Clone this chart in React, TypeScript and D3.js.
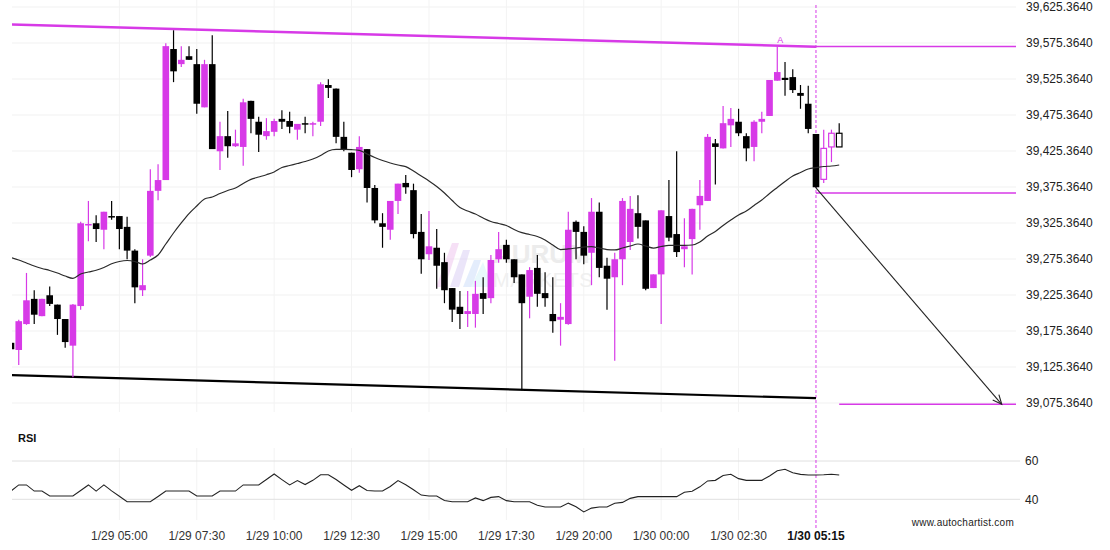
import React from 'react';
import * as d3 from 'd3';

// ---------- data ----------
const opens = [
  39159, 39149, 39185, 39220, 39196, 39225, 39212, 39192, 39155, 39210,
  39323, 39325, 39316, 39335, 39335, 39320, 39287, 39232, 39280, 39370,
  39385, 39567, 39546, 39557, 39546, 39486, 39546, 39425, 39446, 39432,
  39431, 39495, 39466, 39446, 39452, 39470, 39467, 39455, 39464, 39463,
  39466, 39517, 39512, 39445, 39423, 39400, 39428, 39374, 39325, 39316,
  39356, 39381, 39371, 39313, 39282, 39291, 39271, 39235, 39209, 39199,
  39199, 39228, 39221, 39275, 39295, 39275, 39254, 39223, 39263, 39228,
  39199, 39191, 39185, 39327, 39313, 39284, 39341, 39266, 39250, 39275,
  39299, 39339, 39329, 39235, 39254, 39335, 39310, 39289, 39303, 39350,
  39356, 39436, 39429, 39461, 39466, 39446, 39431, 39466, 39474, 39523,
  39527, 39528, 39506, 39491, 39449, 39386, 39431, 39450,
];
const closes = [
  39150, 39189, 39218, 39198, 39220, 39213, 39192, 39160, 39212, 39325,
  39324, 39317, 39341, 39334, 39317, 39287, 39236, 39239, 39370, 39385,
  39571, 39536, 39552, 39552, 39491, 39546, 39428, 39446, 39432, 39436,
  39493, 39470, 39448, 39453, 39467, 39466, 39459, 39463, 39463, 39464,
  39518, 39513, 39445, 39427, 39399, 39431, 39374, 39329, 39320, 39356,
  39380, 39375, 39310, 39275, 39293, 39266, 39232, 39205, 39199, 39203,
  39227, 39220, 39274, 39289, 39275, 39250, 39214, 39260, 39227, 39221,
  39189, 39195, 39316, 39313, 39280, 39341, 39263, 39248, 39275, 39356,
  39345, 39320, 39234, 39254, 39343, 39305, 39285, 39293, 39345, 39363,
  39445, 39431, 39464, 39470, 39450, 39429, 39466, 39470, 39524, 39535,
  39524, 39510, 39502, 39456, 39375, 39429, 39450, 39431,
];
const highs = [
  39160, 39191, 39256, 39232, 39220, 39237, 39212, 39192, 39213, 39327,
  39356, 39336, 39341, 39356, 39335, 39334, 39289, 39275, 39400, 39407,
  39575, 39593, 39571, 39571, 39567, 39552, 39586, 39466, 39481, 39455,
  39498, 39495, 39473, 39471, 39470, 39482, 39480, 39463, 39473, 39466,
  39521, 39525, 39512, 39466, 39423, 39446, 39428, 39378, 39339, 39356,
  39380, 39392, 39380, 39338, 39342, 39317, 39284, 39235, 39231, 39231,
  39245, 39250, 39281, 39313, 39302, 39275, 39254, 39264, 39281, 39257,
  39250, 39214, 39341, 39329, 39321, 39360, 39354, 39277, 39284, 39360,
  39363, 39364, 39329, 39254, 39343, 39385, 39425, 39332, 39345, 39385,
  39449, 39442, 39488, 39485, 39484, 39450, 39468, 39480, 39524, 39570,
  39549, 39539, 39517, 39516, 39449, 39455, 39455, 39464,
];
const lows = [
  39149, 39128, 39184, 39185, 39196, 39210, 39170, 39152, 39111, 39205,
  39300, 39299, 39289, 39330, 39289, 39275, 39214, 39224, 39278, 39357,
  39385, 39521, 39542, 39552, 39477, 39486, 39428, 39399, 39416, 39431,
  39405, 39450, 39424, 39441, 39446, 39456, 39450, 39441, 39450, 39446,
  39460, 39499, 39436, 39425, 39389, 39395, 39354, 39325, 39291, 39302,
  39338, 39366, 39304, 39255, 39274, 39234, 39214, 39188, 39178, 39181,
  39180, 39199, 39214, 39270, 39270, 39242, 39093, 39193, 39209, 39209,
  39173, 39155, 39184, 39275, 39268, 39239, 39250, 39205, 39134, 39239,
  39288, 39304, 39232, 39235, 39185, 39300, 39278, 39264, 39254, 39316,
  39356, 39379, 39429, 39431, 39446, 39411, 39411, 39450, 39474, 39523,
  39502, 39506, 39484, 39450, 39374, 39381, 39410, 39431,
];
const movingAvg = [
  39277.4, 39274.0, 39269.8, 39265.6, 39262.2, 39259.4, 39255.9, 39251.7, 39248.5, 39254.5,
  39257.3, 39259.7, 39263.5, 39268.7, 39271.9, 39273.3, 39271.9, 39268.4, 39274.0, 39280.9,
  39296.2, 39311.5, 39325.4, 39338.5, 39349.0, 39358.7, 39361.5, 39366.3, 39370.5, 39374.0,
  39380.2, 39386.0, 39389.2, 39392.4, 39396.2, 39402.4, 39405.2, 39408.0, 39410.8, 39414.2,
  39419.1, 39425.4, 39427.5, 39427.5, 39427.2, 39426.3, 39421.2, 39416.3, 39412.2, 39408.7,
  39405.9, 39403.6, 39397.6, 39390.6, 39383.7, 39376.0, 39367.0, 39356.6, 39346.9, 39342.0,
  39337.9, 39332.3, 39327.5, 39324.7, 39321.9, 39316.3, 39311.9, 39309.4, 39306.6, 39301.7,
  39294.8, 39288.5, 39289.3, 39290.6, 39292.0, 39292.5, 39290.6, 39288.5, 39287.9, 39290.6,
  39293.4, 39296.2, 39293.4, 39290.6, 39292.7, 39294.4, 39294.4, 39294.4, 39294.8, 39299.0,
  39307.3, 39313.6, 39321.9, 39329.5, 39336.5, 39342.0, 39349.7, 39357.3, 39366.3, 39374.7,
  39383.0, 39390.6, 39395.5, 39400.4, 39402.4, 39403.8, 39404.5, 39405.9,
];
const rsiValues = [
  44.3, 47.5, 47.5, 44.3, 44.3, 41.7, 41.7, 41.7, 41.7, 44.6,
  47.5, 44.3, 47.5, 44.4, 41.6, 38.75, 38.75, 38.75, 38.75, 41.5,
  44.3, 44.3, 44.3, 44.3, 41.7, 41.7, 41.7, 44.3, 44.3, 44.3,
  47.5, 47.5, 47.5, 50.3, 53.2, 50.3, 47.5, 49.8, 47.7, 49.9,
  52.8, 52.85, 50.3, 47.5, 44.7, 47.1, 44.6, 44.3, 44.3, 46.7,
  49.8, 47.6, 45.0, 42.2, 41.7, 41.7, 39.4, 38.75, 38.75, 38.75,
  40.7, 39.3, 41.0, 41.4, 39.3, 38.75, 38.75, 38.75, 36.9, 36.0,
  36.0, 36.0, 38.0, 36.1, 33.4, 35.4, 36.0, 36.0, 37.9, 38.4,
  40.5, 41.4, 41.4, 41.4, 41.4, 41.4, 41.4, 43.7, 44.2, 46.5,
  49.6, 49.9, 52.4, 53.05, 50.8, 49.9, 49.9, 49.9, 52.2, 54.9,
  55.7, 53.9, 53.0, 52.7, 52.7, 52.8, 53.05, 52.7,
];
const hollowFrom = 105; // last candles drawn hollow

const timeTickIndex = [14, 24, 34, 44, 54, 64, 74, 84, 94];
const timeTickLabels = [
  '1/29 05:00', '1/29 07:30', '1/29 10:00', '1/29 12:30', '1/29 15:00',
  '1/29 17:30', '1/29 20:00', '1/30 00:00', '1/30 02:30',
];
const currentIndex = 104;
const currentLabel = '1/30 05:15';

const priceTicks = [
  39625.364, 39575.364, 39525.364, 39475.364, 39425.364, 39375.364,
  39325.364, 39275.364, 39225.364, 39175.364, 39125.364, 39075.364,
];
const rsiTicks = [60, 40];

// pattern (channel) lines: [startIndex, startPrice, endIndex, endPrice]
const resistanceLine = [0, 39601, 104, 39570.3];
const supportLine = [0, 39114, 104, 39082];
const resistanceLevel = 39570.5;
const breakoutLevel = 39367;
const targetLevel = 39073.6;
const forecastArrow = [104, 39374, 128, 39073.6];
const targetStartIndex = 107;
const apexIndex = 99;

export default function App() {
  const W = 1110;
  const H = 550;
  const plotLeft = 12;
  const plotRight = 1016;
  const magenta = '#d73ae7';
  const font = '"Liberation Sans", Arial, sans-serif';

  const x = d3.scaleLinear().domain([0, 107]).range([11, 839.2]);
  const y = d3.scaleLinear().domain([39075.364, 39625.364]).range([403, 7]);
  const yr = d3.scaleLinear().domain([40, 60]).range([499.3, 461]);
  const bw = 6.6;
  const fmt = d3.format(',.4f');

  const maLine = d3
    .line<number>()
    .x((_, i) => x(i))
    .y((d) => y(d))
    .curve(d3.curveMonotoneX)(movingAvg) as string;
  const rsiLine = d3
    .line<number>()
    .x((_, i) => x(i))
    .y((d) => yr(d))(rsiValues) as string;

  const ax = x(forecastArrow[0]);
  const ay = y(forecastArrow[1]);
  const bx = x(forecastArrow[2]);
  const by = y(forecastArrow[3]);
  const ang = Math.atan2(by - ay, bx - ax);
  const hl = 10;
  const ha = 0.42;
  const head = `M${bx - hl * Math.cos(ang - ha)},${by - hl * Math.sin(ang - ha)}L${bx},${by}L${bx - hl * Math.cos(ang + ha)},${by - hl * Math.sin(ang + ha)}`;

  return (
    <svg
      width={W}
      height={H}
      style={{ position: 'absolute', left: 0, top: 0, background: '#fff' }}
      fontFamily={font}
    >
      <defs>
        <clipPath id="plot">
          <rect x={plotLeft} y={0} width={plotRight - plotLeft} height={420} />
        </clipPath>
        <clipPath id="rsiclip">
          <rect x={plotLeft} y={440} width={plotRight - plotLeft} height={90} />
        </clipPath>
      </defs>

      {/* grid */}
      {priceTicks.map((p) => (
        <line key={p} x1={plotLeft} x2={plotRight} y1={y(p)} y2={y(p)} stroke="#f1f1f1" strokeWidth={1} />
      ))}
      {timeTickIndex.map((t) => (
        <g key={t}>
          <line x1={x(t)} x2={x(t)} y1={0} y2={412} stroke="#f3f3f3" />
          <line x1={x(t)} x2={x(t)} y1={448} y2={520} stroke="#f3f3f3" />
        </g>
      ))}
      {rsiTicks.map((r) => (
        <line key={r} x1={plotLeft} x2={1020} y1={yr(r)} y2={yr(r)} stroke="#e0e0e0" strokeWidth={1} />
      ))}

      {/* watermark */}
      <g opacity={0.55}>
        <polygon points="436,287 452,243 459,243 445,287" fill="#efc8ef" />
        <polygon points="450,287 463,250 470,250 459,287" fill="#dcd0f5" />
        <polygon points="463,287 474,260 481,260 472,287" fill="#cfe0fa" />
        <polygon points="471,287 483,262 492,287" fill="#d6f3f8" />
      </g>
      <text x={493} y={263} fontSize={26} fontWeight="bold" fill="#ececec">AURUM</text>
      <text x={493} y={287} fontSize={20} fill="#f0f0f0" letterSpacing={0.5}>MARKETS</text>

      {/* current time dashed marker (behind candles) */}
      <line x1={x(currentIndex)} x2={x(currentIndex)} y1={5} y2={528} stroke={magenta} strokeWidth={1} strokeDasharray="3,2" />

      {/* levels after pattern end */}
      <line x1={x(currentIndex)} x2={plotRight} y1={y(resistanceLevel)} y2={y(resistanceLevel)} stroke={magenta} strokeWidth={1.4} />
      <line x1={x(currentIndex)} x2={plotRight} y1={y(breakoutLevel)} y2={y(breakoutLevel)} stroke={magenta} strokeWidth={1.4} />
      <line x1={x(targetStartIndex)} x2={plotRight} y1={y(targetLevel)} y2={y(targetLevel)} stroke={magenta} strokeWidth={1.4} />

      <g clipPath="url(#plot)">
        {/* pattern lines */}
        <line
          x1={x(resistanceLine[0])}
          y1={y(resistanceLine[1])}
          x2={x(resistanceLine[2])}
          y2={y(resistanceLine[3])}
          stroke={magenta}
          strokeWidth={2.5}
        />
        <line
          x1={x(supportLine[0])}
          y1={y(supportLine[1])}
          x2={x(supportLine[2])}
          y2={y(supportLine[3])}
          stroke="#000"
          strokeWidth={2.2}
        />

        {/* candles */}
        {opens.map((o, i) => {
          const c = closes[i];
          const up = c >= o;
          const col = up ? magenta : '#000';
          const top = y(Math.max(o, c));
          const bot = y(Math.min(o, c));
          const hollow = i >= hollowFrom;
          const hgt = Math.max(bot - top, 1.5);
          return (
            <g key={i}>
              <line x1={x(i)} x2={x(i)} y1={y(highs[i])} y2={y(lows[i])} stroke={col} strokeWidth={1.2} />
              {hollow ? (
                <rect x={x(i) - bw / 2 + 0.5} y={top} width={bw - 1} height={hgt} fill="#fff" stroke={col} strokeWidth={1.2} />
              ) : (
                <rect x={x(i) - bw / 2} y={top} width={bw} height={hgt} fill={col} />
              )}
            </g>
          );
        })}

        {/* moving average */}
        <path d={maLine} fill="none" stroke="#2a2a2a" strokeWidth={1.2} />
      </g>

      {/* forecast arrow */}
      <line x1={ax} y1={ay} x2={bx} y2={by} stroke="#222" strokeWidth={1.1} />
      <path d={head} fill="none" stroke="#222" strokeWidth={1.1} />

      {/* apex label */}
      <text x={x(apexIndex) + 3} y={43} fontSize={9} fill={magenta} textAnchor="middle">A</text>

      {/* RSI */}
      <text x={18} y={442} fontSize={11} fontWeight="bold" fill="#111">RSI</text>
      <g clipPath="url(#rsiclip)">
        <path d={rsiLine} fill="none" stroke="#222" strokeWidth={1.1} />
      </g>
      {rsiTicks.map((r) => (
        <text key={r} x={1025} y={yr(r)} dy="0.35em" fontSize={12} fill="#222">{r}</text>
      ))}

      {/* price axis labels */}
      {priceTicks.map((p) => (
        <text key={p} x={1026} y={y(p)} dy="0.35em" fontSize={12} fill="#222">{fmt(p)}</text>
      ))}

      {/* time axis labels */}
      {timeTickIndex.map((t, k) => (
        <text key={t} x={x(t)} y={540} fontSize={12} fill="#333" textAnchor="middle">{timeTickLabels[k]}</text>
      ))}
      <text x={x(currentIndex)} y={540} fontSize={12} fontWeight="bold" fill="#111" textAnchor="middle">{currentLabel}</text>

      <text x={1014} y={526} fontSize={10} fill="#222" textAnchor="end" letterSpacing={0.25}>www.autochartist.com</text>
    </svg>
  );
}
